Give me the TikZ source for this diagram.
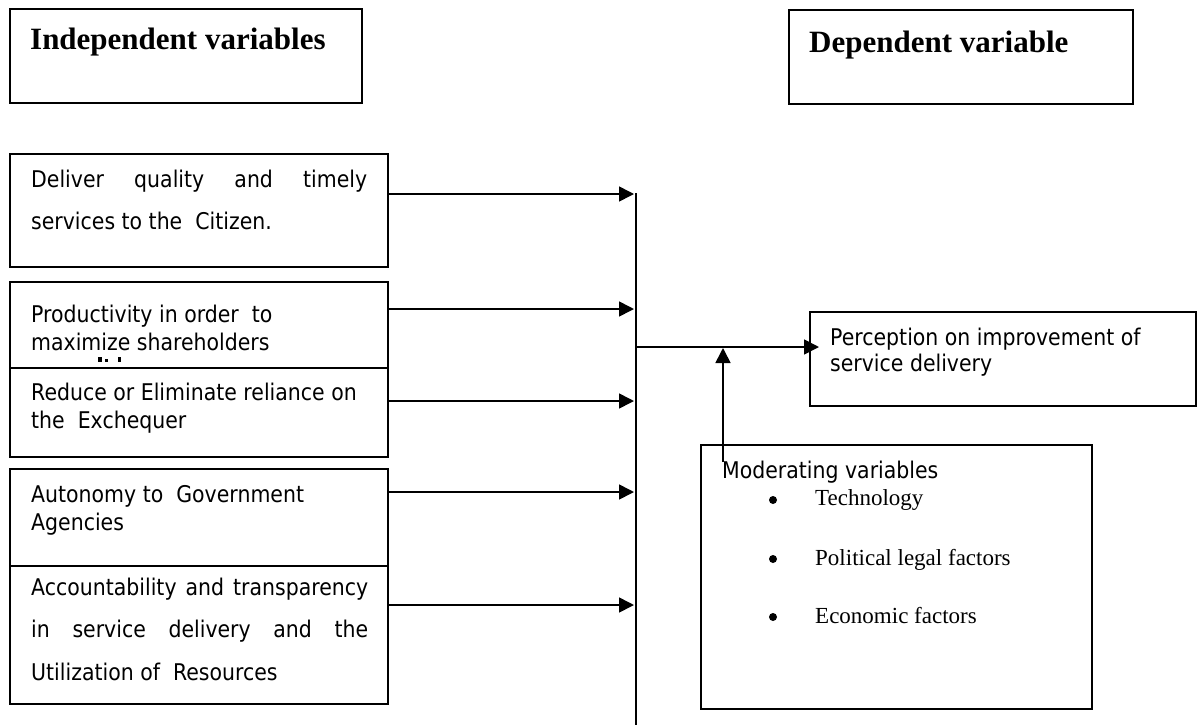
\documentclass[tikz,border=0pt]{standalone}
\usepackage{fontspec}
\setmainfont{Liberation Serif}
\newfontfamily\tah[FakeStretch=0.89]{DejaVu Sans}
\usetikzlibrary{arrows.meta}
\begin{document}
\begin{tikzpicture}[x=1pt,y=-1pt,
  box/.style={draw,line width=1.6pt,anchor=north west,inner sep=0pt,outer sep=0pt},
  head/.style={anchor=base west,inner sep=0pt,font=\fontsize{31}{31}\selectfont\bfseries},
  txt/.style={anchor=base west,inner sep=0pt,font=\fontsize{23}{23}\tah},
  ser/.style={anchor=base west,inner sep=0pt,font=\fontsize{23}{23}\selectfont},
  conn/.style={line width=1.6pt},
  arr/.style={line width=1.6pt,-{Triangle[length=15pt,width=15pt]}}]
\useasboundingbox (0,0) rectangle (1197,726);
% header boxes
\node[box,minimum width=352pt,minimum height=94pt] (iv) at (10,9) {};
\node[head] (ivt) at (30,49) {Independent variables};
\node[box,minimum width=344pt,minimum height=94pt] (dv) at (789,10) {};
\node[head] (dvt) at (809,52) {Dependent variable};
% independent variable boxes
\node[box,minimum width=378pt,minimum height=113pt] (b1) at (10,154) {};
\node[box,minimum width=378pt,minimum height=86pt] (b2) at (10,282) {};
\node[box,minimum width=378pt,minimum height=89pt] (b3) at (10,368) {};
\node[box,minimum width=378pt,minimum height=97pt] (b4) at (10,469) {};
\node[box,minimum width=378pt,minimum height=138pt] (b5) at (10,566) {};
\node[txt] (t1a) at (31,187) {\hbox to 336pt{Deliver\hfill quality\hfill and\hfill timely}};
\node[txt] (t1b) at (31,229) {services to the\ \ Citizen.};
\node[txt] (t2a) at (31,322) {Productivity in order\ \ to};
\node[txt] (t2b) at (31,350) {maximize shareholders};
\fill (98,357) rectangle (102,362);
\fill (105,359) rectangle (108,362);
\fill (118,357) rectangle (121,362);
\node[txt] (t3a) at (31,400) {Reduce or Eliminate reliance on};
\node[txt] (t3b) at (31,428) {the\ \ Exchequer};
\node[txt] (t4a) at (31,502) {Autonomy to\ \ Government};
\node[txt] (t4b) at (31,530) {Agencies};
\node[txt] (t5a) at (31,595) {\hbox to 337pt{Accountability\hfill and\hfill transparency}};
\node[txt] (t5b) at (31,637) {\hbox to 337pt{in\hfill service\hfill delivery\hfill and\hfill the}};
\node[txt] (t5c) at (31,680) {Utilization of\ \ Resources};
% bus
\coordinate (bt) at (636,193);
\coordinate (bb) at (636,725);
\draw[conn] (bt) -- (bb);
\coordinate (a1) at (634,194);
\coordinate (a2) at (634,309);
\coordinate (a3) at (634,401);
\coordinate (a4) at (634,492);
\coordinate (a5) at (634,605);
\draw[arr] (b1.east |- a1) -- (a1);
\draw[arr] (b2.east |- a2) -- (a2);
\draw[arr] (b3.east |- a3) -- (a3);
\draw[arr] (b4.east |- a4) -- (a4);
\draw[arr] (b5.east |- a5) -- (a5);
% dependent
\node[box,minimum width=386pt,minimum height=94pt] (per) at (810,312) {};
\node[txt] (pt1) at (830,345) {Perception on improvement of};
\node[txt] (pt2) at (830,371) {service delivery};
\coordinate (ps) at (637,347);
\coordinate (pe) at (819,347);
\draw[arr] (ps) -- (pe);
% moderating
\node[box,minimum width=391pt,minimum height=264pt] (mod) at (701,445) {};
\coordinate (ms) at (723,462);
\coordinate (me) at (723,348);
\draw[arr] (ms) -- (me);
\node[txt] (mt) at (722,478) {Moderating variables};
\fill (773,500) circle (4);
\node[ser] (m1) at (815,505) {Technology};
\fill (773,559) circle (4);
\node[ser] (m2) at (815,565) {Political legal factors};
\fill (773,617) circle (4);
\node[ser] (m3) at (815,623) {Economic factors};
\end{tikzpicture}
\end{document}
